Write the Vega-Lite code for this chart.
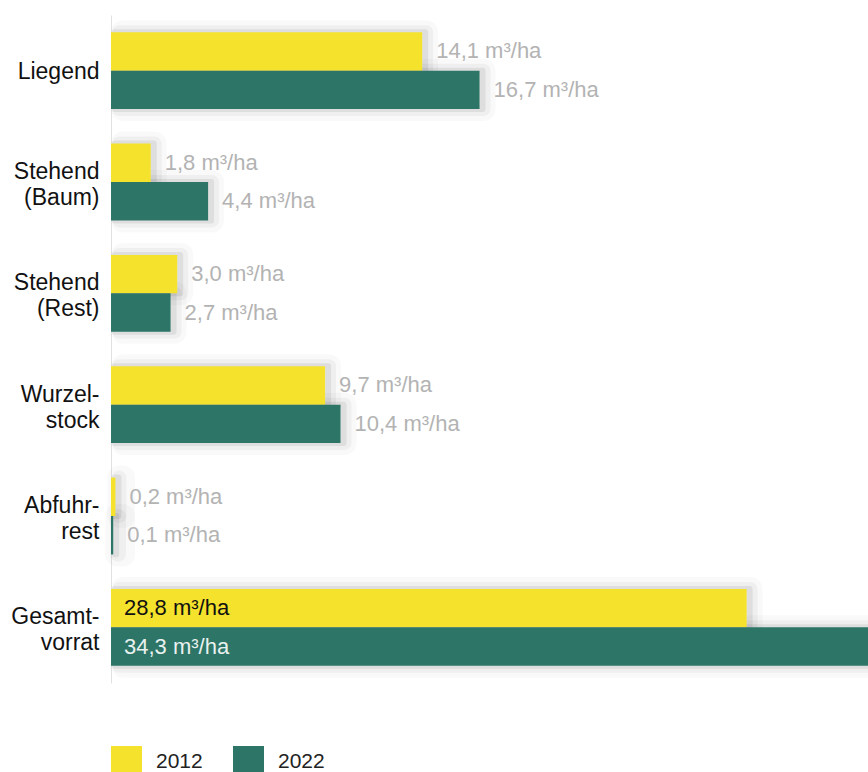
{
  "$schema": "https://vega.github.io/schema/vega-lite/v6.json",
  "autosize": {"type": "none"},
  "padding": {"left": 111, "top": 15, "right": 0, "bottom": 89},
  "width": 757,
  "height": 668,
  "background": "#ffffff",
  "config": {
    "view": {"stroke": null},
    "font": "Liberation Sans"
  },
  "data": {
    "values": [
      {"cat": "Liegend", "year": "2012", "value": 14.1},
      {"cat": "Liegend", "year": "2022", "value": 16.7},
      {"cat": "Stehend|(Baum)", "year": "2012", "value": 1.8},
      {"cat": "Stehend|(Baum)", "year": "2022", "value": 4.4},
      {"cat": "Stehend|(Rest)", "year": "2012", "value": 3.0},
      {"cat": "Stehend|(Rest)", "year": "2022", "value": 2.7},
      {"cat": "Wurzel-|stock", "year": "2012", "value": 9.7},
      {"cat": "Wurzel-|stock", "year": "2022", "value": 10.4},
      {"cat": "Abfuhr-|rest", "year": "2012", "value": 0.2},
      {"cat": "Abfuhr-|rest", "year": "2022", "value": 0.1},
      {"cat": "Gesamt-|vorrat", "year": "2012", "value": 28.8},
      {"cat": "Gesamt-|vorrat", "year": "2022", "value": 34.3}
    ]
  },
  "transform": [
    {"calculate": "replace(format(datum.value, '.1f'), '.', ',') + ' m³/ha'", "as": "label"}
  ],
  "encoding": {
    "y": {
      "field": "cat",
      "type": "nominal",
      "sort": null,
      "scale": {"paddingInner": 0.31, "paddingOuter": 0.155},
      "axis": {
        "title": null,
        "ticks": false,
        "grid": false,
        "domainColor": "#e2e2e2",
        "domainWidth": 1,
        "labelExpr": "split(datum.label, '|')",
        "labelFontSize": 23,
        "labelColor": "#111111",
        "labelPadding": 12,
        "labelLineHeight": 26,
        "labelAlign": "right",
        "labelBaseline": "middle",
        "labelOffset": {"condition": {"test": "indexof(datum.value, '|') >= 0", "value": -10}, "value": 1}
      }
    },
    "yOffset": {"field": "year", "type": "nominal", "scale": {"paddingInner": 0, "paddingOuter": 0}},
    "x": {
      "field": "value",
      "type": "quantitative",
      "scale": {"domain": [0, 34.3], "nice": false},
      "axis": null
    }
  },
  "layer": [
    {
      "mark": {"type": "bar", "fill": "#000000", "fillOpacity": 0, "stroke": "#000000", "strokeOpacity": 0.025, "strokeWidth": 24, "strokeJoin": "round", "xOffset": 4, "x2Offset": 12},
      "encoding": {"x2": {"datum": 0}}
    },
    {
      "mark": {"type": "bar", "fill": "#000000", "fillOpacity": 0, "stroke": "#000000", "strokeOpacity": 0.04, "strokeWidth": 14, "strokeJoin": "round", "xOffset": 4, "x2Offset": 8},
      "encoding": {"x2": {"datum": 0}}
    },
    {
      "mark": {"type": "bar", "fill": "#000000", "fillOpacity": 0, "stroke": "#000000", "strokeOpacity": 0.07, "strokeWidth": 6, "strokeJoin": "round", "xOffset": 3, "x2Offset": 4},
      "encoding": {"x2": {"datum": 0}}
    },
    {
      "mark": {"type": "bar"},
      "encoding": {
        "color": {
          "field": "year",
          "type": "nominal",
          "scale": {"domain": ["2012", "2022"], "range": ["#F4E22C", "#2D7566"]},
          "legend": {
            "title": null,
            "orient": "none",
            "legendX": 0,
            "legendY": 731,
            "direction": "horizontal",
            "symbolType": "square",
            "symbolSize": 961,
            "symbolStrokeWidth": 0,
            "symbolOpacity": 1,
            "labelFontSize": 21,
            "labelColor": "#222222",
            "labelOffset": 14,
            "columnPadding": 30
          }
        }
      }
    },
    {
      "transform": [{"filter": "datum.cat != 'Gesamt-|vorrat'"}],
      "mark": {"type": "text", "align": "left", "baseline": "middle", "dx": 14, "fontSize": 22, "color": "#b3b3b3"},
      "encoding": {"text": {"field": "label"}}
    },
    {
      "transform": [{"filter": "datum.cat == 'Gesamt-|vorrat' && datum.year == '2012'"}],
      "mark": {"type": "text", "align": "left", "baseline": "middle", "dx": 13, "fontSize": 22, "color": "#111111"},
      "encoding": {
        "x": {"datum": 0},
        "text": {"field": "label"}
      }
    },
    {
      "transform": [{"filter": "datum.cat == 'Gesamt-|vorrat' && datum.year == '2022'"}],
      "mark": {"type": "text", "align": "left", "baseline": "middle", "dx": 13, "fontSize": 22, "color": "#e9f1ef"},
      "encoding": {
        "x": {"datum": 0},
        "text": {"field": "label"}
      }
    }
  ]
}
